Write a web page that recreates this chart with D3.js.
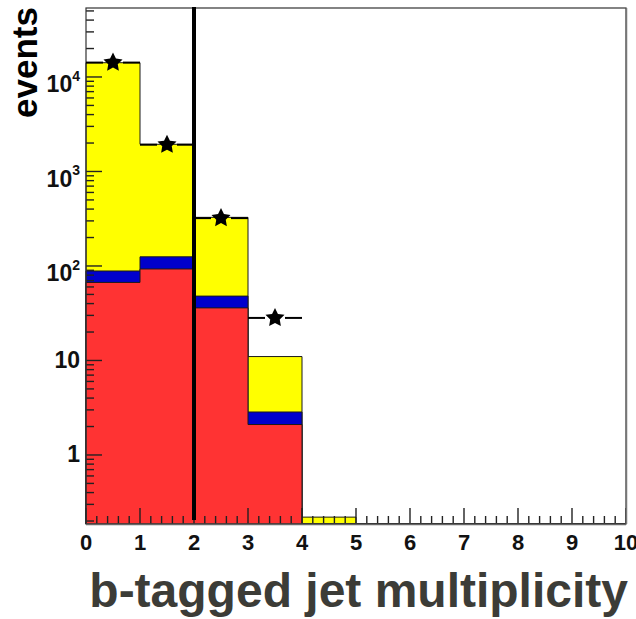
<!DOCTYPE html>
<html>
<head>
<meta charset="utf-8">
<script src="https://cdn.jsdelivr.net/npm/d3@7"></script>
<style>
  html, body { margin: 0; padding: 0; background: #ffffff; }
  svg text { font-family: "Liberation Sans", Arial, Helvetica, sans-serif; font-weight: bold; }
</style>
</head>
<body>
<svg id="chart" width="636" height="619"></svg>
<script>
// ---- data ----------------------------------------------------------------
// bin edges of the b-tag multiplicity histogram
const binEdges = [0, 1, 2, 3, 4, 5, 6, 7, 8, 9, 10];
// stacked expectation components per bin (bottom to top)
const redVals    = [67, 93, 36, 2.1, 0, 0, 0, 0, 0, 0];
const blueVals   = [21.5, 32, 12, 0.75, 0, 0, 0, 0, 0, 0];
const yellowVals = [14070, 1815, 279, 8.15, 0.22, 0, 0, 0, 0, 0];
// observed events (bin centres and counts)
const dataCenters = [0.5, 1.5, 2.5, 3.5];
const dataVals    = [14200, 1920, 321, 28.2];
// selection cut position
const cutValue = 2;
// axis ticks
const yMajorTicks = [1, 10, 100, 1000, 10000];
const yTickBase   = ["1", "10", "10", "10", "10"];
const yTickExp    = ["", "", "2", "3", "4"];
const xTickVals   = [0, 1, 2, 3, 4, 5, 6, 7, 8, 9, 10];
const xTickLabels = ["0", "1", "2", "3", "4", "5", "6", "7", "8", "9", "10"];
const yDomain = [0.186, 53700];

// ---- layout --------------------------------------------------------------
const frame = { left: 86, right: 626, top: 8, bottom: 524 };
const svg = d3.select("#chart");

const x = d3.scaleLinear().domain([binEdges[0], binEdges[binEdges.length - 1]])
  .range([frame.left, frame.right]);
const y = d3.scaleLog().domain(yDomain).range([frame.bottom, frame.top]);
const yv = v => (v > yDomain[0] ? y(v) : frame.bottom);

// frame background
svg.append("rect")
  .attr("x", frame.left).attr("y", frame.top)
  .attr("width", frame.right - frame.left).attr("height", frame.bottom - frame.top)
  .attr("fill", "#ffffff");

// ---- stacked histograms --------------------------------------------------
const rows = redVals.map((r, i) => ({ red: r, blue: blueVals[i], yellow: yellowVals[i] }));
const stacked = d3.stack().keys(["red", "blue", "yellow"])(rows);
const colours = { red: "#ff3333", blue: "#0000cc", yellow: "#ffff00" };

function stepPath(tops) {
  const p = d3.path();
  p.moveTo(x(binEdges[0]), frame.bottom);
  tops.forEach((v, i) => {
    p.lineTo(x(binEdges[i]), yv(v));
    p.lineTo(x(binEdges[i + 1]), yv(v));
  });
  p.lineTo(x(binEdges[binEdges.length - 1]), frame.bottom);
  p.closePath();
  return p.toString();
}

// draw the cumulative totals, largest first
stacked.slice().reverse().forEach(layer => {
  svg.append("path")
    .attr("d", stepPath(layer.map(d => d[1])))
    .attr("fill", colours[layer.key])
    .attr("stroke", "#1a1a1a")
    .attr("stroke-width", 1);
});

// ---- axes ------------------------------------------------------------------
const tickColour = "#222";
const yTicksG = svg.append("g");
for (let d = -1; d <= 4; d++) {
  for (let k = 1; k <= 9; k++) {
    const v = k * Math.pow(10, d);
    if (v < yDomain[0] || v > yDomain[1]) continue;
    const len = k === 1 ? 16 : 8;
    yTicksG.append("line")
      .attr("x1", frame.left).attr("x2", frame.left + len)
      .attr("y1", y(v)).attr("y2", y(v))
      .attr("stroke", tickColour).attr("stroke-width", 1.4);
  }
}
const xTicksG = svg.append("g");
for (let i = 0; i <= 50; i++) {
  const v = i * 0.2;
  const len = i % 5 === 0 ? 16 : 8;
  xTicksG.append("line")
    .attr("x1", x(v)).attr("x2", x(v))
    .attr("y1", frame.bottom).attr("y2", frame.bottom - len)
    .attr("stroke", tickColour).attr("stroke-width", 1.4);
}

// frame outline
svg.append("rect")
  .attr("x", frame.left).attr("y", frame.top)
  .attr("width", frame.right - frame.left).attr("height", frame.bottom - frame.top)
  .attr("fill", "none").attr("stroke", "#333").attr("stroke-width", 1.2);
svg.append("line")
  .attr("x1", frame.right + 0.5).attr("x2", frame.right + 0.5)
  .attr("y1", frame.top).attr("y2", frame.bottom)
  .attr("stroke", "#777").attr("stroke-width", 1.5);
svg.append("line")
  .attr("x1", frame.left).attr("x2", frame.right)
  .attr("y1", frame.bottom + 0.5).attr("y2", frame.bottom + 0.5)
  .attr("stroke", "#666").attr("stroke-width", 1.5);

// y tick labels
yMajorTicks.forEach((v, i) => {
  const t = svg.append("text")
    .attr("x", frame.left - 6)
    .attr("text-anchor", "end")
    .attr("font-size", 23)
    .attr("fill", "#111");
  if (yTickExp[i]) {
    t.attr("y", y(v) + 15.5);
    t.append("tspan").text(yTickBase[i]);
    t.append("tspan").attr("font-size", 14).attr("dy", -11.5).text(yTickExp[i]);
  } else {
    t.attr("y", y(v) + 7.5).text(yTickBase[i]);
  }
});

// x tick labels
svg.append("g").selectAll("text").data(xTickVals).join("text")
  .attr("x", d => x(d))
  .attr("y", frame.bottom + 26)
  .attr("text-anchor", "middle")
  .attr("font-size", 22)
  .attr("fill", "#111")
  .text((d, i) => xTickLabels[i]);

// axis titles
svg.append("text")
  .attr("transform", `translate(37,${frame.top - 1}) rotate(-90)`)
  .attr("text-anchor", "end")
  .attr("font-size", 35)
  .attr("fill", "#000")
  .text("events");
svg.append("text")
  .attr("x", 628).attr("y", 607)
  .attr("text-anchor", "end")
  .attr("font-size", 48)
  .attr("fill", "#3c3c37")
  .text("b-tagged jet multiplicity");

// ---- selection cut line -----------------------------------------------------
svg.append("line")
  .attr("x1", x(cutValue)).attr("x2", x(cutValue))
  .attr("y1", frame.top - 1).attr("y2", frame.bottom - 4)
  .attr("stroke", "#000").attr("stroke-width", 4);

// ---- observed data ---------------------------------------------------------
// chunky five-pointed star marker
function starPath(rOuter, rInner) {
  const pts = [];
  for (let k = 0; k < 10; k++) {
    const r = k % 2 === 0 ? rOuter : rInner;
    const a = -Math.PI / 2 + k * Math.PI / 5;
    pts.push([r * Math.cos(a), r * Math.sin(a)]);
  }
  return d3.line()(pts) + "Z";
}
const markerShape = starPath(10, 5);

const gap = 10;
const dataG = svg.append("g");
dataVals.forEach((v, i) => {
  const c = dataCenters[i];
  const cx = x(c), cy = y(v);
  dataG.append("line")
    .attr("x1", x(c - 0.5)).attr("x2", cx - gap)
    .attr("y1", cy).attr("y2", cy)
    .attr("stroke", "#000").attr("stroke-width", 2);
  dataG.append("line")
    .attr("x1", cx + gap).attr("x2", x(c + 0.5))
    .attr("y1", cy).attr("y2", cy)
    .attr("stroke", "#000").attr("stroke-width", 2);
  const err = Math.sqrt(v);
  const yUp = y(v + err), yLo = y(v - err);
  if (cy - yUp > gap) {
    dataG.append("line").attr("x1", cx).attr("x2", cx)
      .attr("y1", yUp).attr("y2", cy - gap).attr("stroke", "#000").attr("stroke-width", 2);
  }
  if (yLo - cy > gap) {
    dataG.append("line").attr("x1", cx).attr("x2", cx)
      .attr("y1", cy + gap).attr("y2", yLo).attr("stroke", "#000").attr("stroke-width", 2);
  }
  dataG.append("path")
    .attr("d", markerShape)
    .attr("transform", `translate(${cx},${cy})`)
    .attr("fill", "#000");
});
</script>
</body>
</html>
